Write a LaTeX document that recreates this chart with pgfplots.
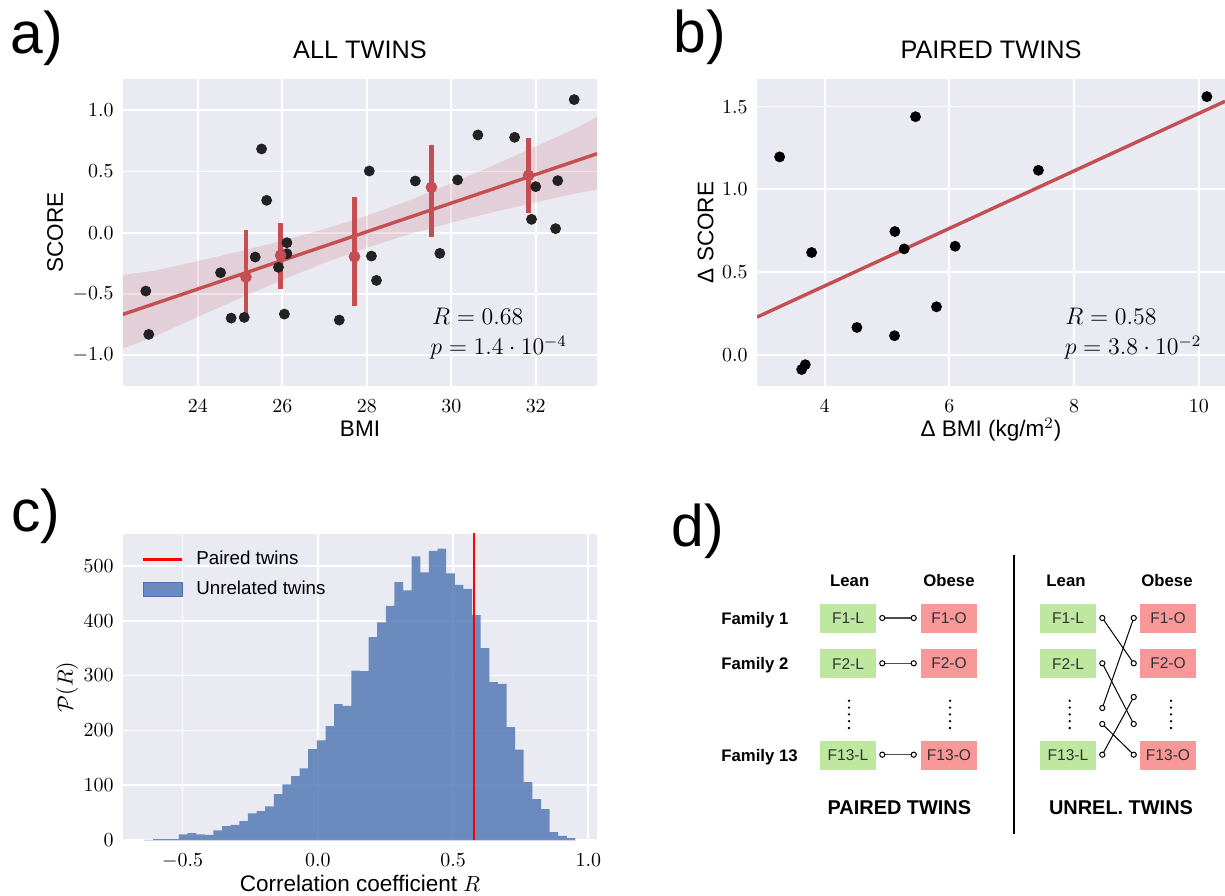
\documentclass[border=0pt]{standalone}
\usepackage[no-math]{fontspec}
\usepackage{pgfplots}
\pgfplotsset{compat=1.18}
\newfontfamily\lsans{Liberation Sans}
\definecolor{sbbg}{HTML}{EAEAF2}
\definecolor{sred}{HTML}{C44E52}
\definecolor{sblue}{HTML}{4C72B0}
\definecolor{dgreen}{HTML}{BEE7A0}
\definecolor{dred}{HTML}{F99898}
\definecolor{ptblack}{HTML}{222222}
\definecolor{boxtext}{HTML}{333333}

\pgfplotsset{
  sbstyle/.style={
    scale only axis,
    anchor=south west,
    axis background/.style={fill=sbbg},
    axis line style={draw=none},
    major tick length=0pt,
    grid=major,
    major grid style={white, line width=0.9bp},
    tick label style={font=\fontsize{9.6}{11}\selectfont, inner sep=0pt},
    xticklabel style={anchor=north, yshift=-6.6bp},
    yticklabel style={anchor=east, xshift=-4.5bp},
    label style={font=\lsans\fontsize{11.3}{13}\selectfont},
    title style={font=\lsans\fontsize{12.7}{14}\selectfont, anchor=base, at={(axis description cs:0.5,1.028)}},
    xlabel style={anchor=base, at={(axis description cs:0.5,-0.1664)}},
    ylabel style={anchor=base},
  }
}

\begin{document}
\begin{tikzpicture}
\useasboundingbox (0,0) rectangle (612.5bp,448bp);

% ---------------- panel a ----------------
\begin{axis}[sbstyle, at={(61.5bp,255.15bp)}, width=237bp, height=153.2bp,
  xmin=22.23, xmax=33.45, ymin=-1.25, ymax=1.253,
  xtick={24,26,28,30,32}, ytick={-1,-0.5,0,0.5,1},
  yticklabel style={/pgf/number format/fixed, /pgf/number format/fixed zerofill, /pgf/number format/precision=1},
  title={ALL TWINS}, xlabel={BMI}, ylabel={SCORE},
  ylabel style={at={(axis description cs:-0.1266,0.5)}}]
\addplot[only marks, mark=*, mark size=2.5bp, ptblack] coordinates {
(22.77,-0.477) (22.84,-0.831) (24.54,-0.327) (24.79,-0.698) (25.10,-0.692)
(25.36,-0.199) (25.51,0.684) (25.63,0.264) (25.91,-0.283) (26.11,-0.082)
(26.11,-0.172) (26.05,-0.665) (27.35,-0.714) (28.06,0.504) (28.11,-0.191)
(28.23,-0.390) (29.15,0.422) (29.73,-0.169) (30.15,0.431) (30.63,0.798)
(31.50,0.779) (31.90,0.109) (32.00,0.376) (32.52,0.425) (32.47,0.033)
(32.91,1.087)};
% confidence band (upper edge left to right, lower edge right to left)
\addplot[draw=none, fill=sred, fill opacity=0.17] coordinates {
(22.23,-0.345) (23,-0.309) (24,-0.232) (25,-0.152) (26,-0.066) (27,0.029)
(28,0.138) (29,0.263) (30,0.402) (31,0.550) (32,0.704) (33,0.861) (33.45,0.945)
(33.45,0.352) (33,0.325) (32,0.248) (31,0.168) (30,0.082) (29,-0.013)
(28,-0.122) (27,-0.247) (26,-0.386) (25,-0.534) (24,-0.688) (23,-0.845) (22.23,-0.946)};
\addplot[sred, line width=1.7bp] coordinates {(22.225,-0.668) (33.45,0.645)};
\addplot[sred, only marks, mark=*, mark size=2.7bp,
  error bars/.cd, y dir=both, y explicit,
  error bar style={line width=2.2bp, sred}, error mark=none] coordinates {
(25.14,-0.362) += (0,0.381) -= (0,0.310)
(25.96,-0.185) += (0,0.261) -= (0,0.278)
(27.71,-0.196) += (0,0.485) -= (0,0.400)
(29.53,0.371) += (0,0.343) -= (0,0.406)
(31.83,0.468) += (0,0.304) -= (0,0.311)};
\end{axis}

% ---------------- panel b ----------------
\begin{axis}[sbstyle, at={(378.5bp,255.15bp)}, width=234bp, height=153.2bp,
  xmin=2.916, xmax=10.42, ymin=-0.187, ymax=1.665,
  xtick={4,6,8,10}, ytick={0,0.5,1,1.5},
  yticklabel style={/pgf/number format/fixed, /pgf/number format/fixed zerofill, /pgf/number format/precision=1},
  title={PAIRED TWINS}, xlabel={Δ BMI (kg/m$^2$)}, ylabel={Δ SCORE},
  ylabel style={at={(axis description cs:-0.0932,0.5)}}]
\addplot[sred, line width=1.7bp] coordinates {(2.916,0.2275) (10.42,1.532)};
\addplot[only marks, mark=*, mark size=2.5bp, black] coordinates {
(3.279,1.196) (5.458,1.439) (10.129,1.560) (7.428,1.115) (5.127,0.745)
(5.276,0.640) (6.093,0.656) (3.792,0.618) (5.794,0.290) (4.518,0.165)
(5.121,0.115) (3.690,-0.060) (3.632,-0.089)};
\end{axis}

% ---------------- panel c ----------------
\begin{axis}[sbstyle, at={(61.5bp,27.85bp)}, width=237bp, height=153.2bp,
  xmin=-0.720, xmax=1.032, ymin=0, ymax=558,
  xtick={-0.5,0,0.5,1}, ytick={0,100,200,300,400,500},
  xticklabel style={/pgf/number format/fixed, /pgf/number format/fixed zerofill, /pgf/number format/precision=1},
  xlabel={Correlation coefficient $R$}, ylabel={$\mathcal{P}(R)$},
  xlabel style={at={(axis description cs:0.5,-0.1655)}},
  ylabel style={at={(axis description cs:-0.1063,0.5)}},
  legend style={draw=none, fill=none, at={(axis description cs:0.0388,0.954)}, anchor=north west,
    inner sep=0pt, row sep=3.6bp, font=\lsans\fontsize{9.4}{11}\selectfont,
    nodes={inner sep=1.5bp},
    /tikz/every odd column/.append style={column sep=5bp}},
  legend cell align=left]
\addlegendimage{legend image code/.code={\draw[red, line width=1.3bp] (0bp,0bp) -- (19.5bp,0bp);}}
\addlegendentry{Paired twins}
\addlegendimage{legend image code/.code={\fill[sblue, fill opacity=0.8] (0bp,-3.5bp) rectangle (19.5bp,3.5bp);}}
\addlegendentry{Unrelated twins}
\addplot[forget plot, ybar interval, fill=sblue, fill opacity=0.8, draw=none] coordinates {
(-0.6406,1) (-0.6087,2) (-0.5769,2) (-0.5450,2) (-0.5132,11) (-0.4813,13)
(-0.4494,11) (-0.4176,10) (-0.3857,18) (-0.3539,26) (-0.3220,28) (-0.2901,35)
(-0.2583,49) (-0.2264,53) (-0.1946,62) (-0.1627,84) (-0.1308,102) (-0.0990,117)
(-0.0671,131) (-0.0353,166) (-0.0034,182) (0.0285,208) (0.0603,248) (0.0922,245)
(0.1240,309) (0.1559,308) (0.1878,370) (0.2196,397) (0.2515,427) (0.2833,470)
(0.3152,455) (0.3471,517) (0.3789,488) (0.4108,527) (0.4426,531) (0.4745,486)
(0.5064,465) (0.5382,458) (0.5701,410) (0.6019,350) (0.6338,288) (0.6657,285)
(0.6975,206) (0.7294,165) (0.7612,106) (0.7931,75) (0.8250,57) (0.8568,15)
(0.8887,8) (0.9205,4) (0.9524,4)};
\addplot[forget plot, red, line width=1.3bp] coordinates {(0.578,0) (0.578,560)};
\end{axis}

% annotations
\node[anchor=base west, inner sep=0pt, font=\fontsize{12}{14}\selectfont] at (215.85bp,285.5bp) {$R=0.68$};
\node[anchor=base west, inner sep=0pt, font=\fontsize{12}{14}\selectfont] at (215bp,270.5bp) {$p=1.4\cdot10^{-4}$};
\node[anchor=base west, inner sep=0pt, font=\fontsize{12}{14}\selectfont] at (532.5bp,285.5bp) {$R=0.58$};
\node[anchor=base west, inner sep=0pt, font=\fontsize{12}{14}\selectfont] at (532.2bp,270.5bp) {$p=3.8\cdot10^{-2}$};

% panel letters
\begin{scope}[every node/.style={anchor=base west, inner sep=0pt, font=\lsans\fontsize{29.5}{32}\selectfont}]
\node at (5bp,421.35bp) {a)};
\node at (336.5bp,421.85bp) {b)};
\node at (5.5bp,182.35bp) {c)};
\node at (335.5bp,174.5bp) {d)};
\end{scope}

% ---------------- panel d (diagram) ----------------
\draw[black, line width=1.4bp] (507bp,170.5bp) -- (507bp,31bp);
\begin{scope}[every node/.style={anchor=base, inner sep=0pt, font=\lsans\bfseries\fontsize{8.4}{10}\selectfont}]
\node at (424.85bp,154.85bp) {Lean};
\node at (474.5bp,154.85bp) {Obese};
\node at (533bp,154.85bp) {Lean};
\node at (583.5bp,154.85bp) {Obese};
\node[anchor=base west] at (360.5bp,135.65bp) {Family 1};
\node[anchor=base west] at (360.5bp,113bp) {Family 2};
\node[anchor=base west] at (360.5bp,67bp) {Family 13};
\end{scope}
\begin{scope}[every node/.style={anchor=base, inner sep=0pt, font=\lsans\bfseries\fontsize{10}{12}\selectfont}]
\node at (449.7bp,40.65bp) {PAIRED TWINS};
\node at (560.5bp,40.65bp) {UNREL. TWINS};
\end{scope}
\begin{scope}[every node/.style={inner sep=0pt, minimum width=28bp, minimum height=14.35bp, text=boxtext, font=\lsans\fontsize{7.8}{9}\selectfont}]
\node[fill=dgreen] at (424bp,138.85bp) {F1-L};
\node[fill=dgreen] at (424bp,116.2bp) {F2-L};
\node[fill=dgreen] at (424bp,70.2bp) {F13-L};
\node[fill=dred] at (474.5bp,138.85bp) {F1-O};
\node[fill=dred] at (474.5bp,116.2bp) {F2-O};
\node[fill=dred] at (474.5bp,70.2bp) {F13-O};
\node[fill=dgreen] at (534bp,138.85bp) {F1-L};
\node[fill=dgreen] at (534bp,116.2bp) {F2-L};
\node[fill=dgreen] at (534bp,70.2bp) {F13-L};
\node[fill=dred] at (584bp,138.85bp) {F1-O};
\node[fill=dred] at (584bp,116.2bp) {F2-O};
\node[fill=dred] at (584bp,70.2bp) {F13-O};
\end{scope}
% vertical dots
\foreach \xx in {424.5,475,534.85,585.5}{
  \foreach \yy in {97.6,94.2,90.8,87.4,84.0}{
    \fill[black] (\xx bp,\yy bp) circle (0.65bp);
  }
}
% paired connectors
\foreach \yy in {139,116.35,70.65}{
  \draw[black!70, line width=0.6bp] (441.15bp,\yy bp) -- (456.85bp,\yy bp);
  \draw[black, fill=white, line width=0.5bp] (441.15bp,\yy bp) circle (1.3bp);
  \draw[black, fill=white, line width=0.5bp] (456.85bp,\yy bp) circle (1.3bp);
}
% unrelated connectors
\draw[black, line width=0.5bp] (551.15bp,139bp) -- (566.85bp,116.35bp);
\draw[black, line width=0.5bp] (566.85bp,139bp) -- (551.15bp,94bp);
\draw[black, line width=0.5bp] (551.15bp,116.35bp) -- (566.85bp,86bp);
\draw[black, line width=0.5bp] (566.85bp,99.5bp) -- (551.15bp,70.65bp);
\draw[black, line width=0.5bp] (551.15bp,86bp) -- (566.85bp,70.65bp);
\foreach \yy in {139,116.35,94,86,70.65}{
  \draw[black, fill=white, line width=0.5bp] (551.15bp,\yy bp) circle (1.3bp);
}
\foreach \yy in {139,116.35,99.5,86,70.65}{
  \draw[black, fill=white, line width=0.5bp] (566.85bp,\yy bp) circle (1.3bp);
}
\end{tikzpicture}
\end{document}
